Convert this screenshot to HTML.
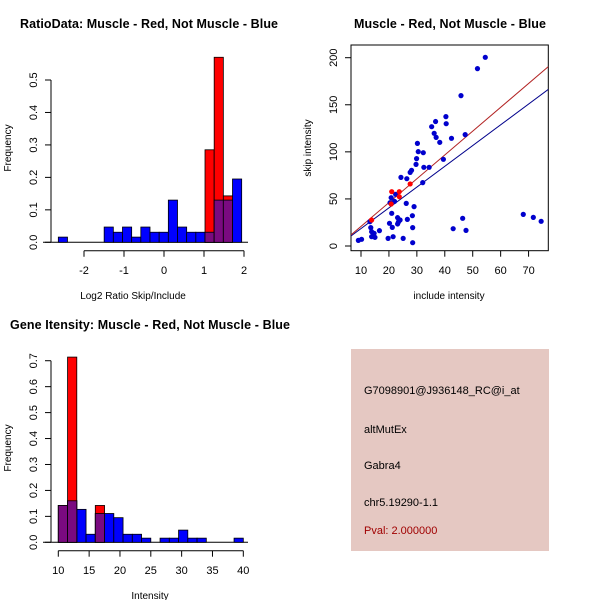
<!DOCTYPE html>
<html><head><meta charset="utf-8"><style>
html,body{margin:0;padding:0;background:#fff}
svg{display:block;font-family:"Liberation Sans",sans-serif}
</style></head><body>
<svg id="c" width="600" height="600" xmlns="http://www.w3.org/2000/svg"></svg>
<script>
// Panel 1: log2 ratio histogram
const ratioStart = -2.642, ratioWidth = 0.2292;
const ratioBlue = [0.016,0,0,0,0,0.047,0.031,0.047,0.016,0.047,0.031,0.031,0.13,0.047,0.031,0.031,0.031,0.13,0.13,0.195];
const ratioRed  = [0,0,0,0,0,0,0,0,0,0,0,0,0,0,0,0,0.285,0.57,0.143,0];
const ratioXTicks = [-2,-1,0,1,2];
const ratioYTicks = [0,0.1,0.2,0.3,0.4,0.5];
// Panel 2: scatter
const scatterBlueX = [9.05,10.2,13.2,13.5,13.8,14.4,13.8,14.7,15.0,16.6,19.7,20.2,20.4,20.8,21.0,21.2,21.5,22.0,22.4,23.1,23.1,23.4,24.0,24.3,25.1,26.2,26.4,26.6,27.6,28.1,28.4,28.5,28.5,29.0,29.7,29.9,30.2,30.5,32.1,32.3,32.5,34.4,35.3,36.2,36.7,36.9,38.2,39.5,40.4,40.5,42.4,43.0,45.8,46.4,47.3,47.6,51.7,54.5,68.1,71.7,74.5];
const scatterBlueY = [6.0,7.1,25.8,19.5,9.9,11.7,15.2,13.5,9.2,16.3,8.1,24.1,46.0,51.3,34.7,19.8,9.9,47.4,54.9,23.4,30.1,25.5,27.6,72.9,8.1,45.3,71.5,28.3,78.2,80.4,32.2,19.5,3.5,41.8,86.7,92.8,109.0,100.2,67.3,99.1,83.6,83.6,126.7,119.7,132.2,115.4,110.1,92.1,137.4,129.9,114.4,18.4,159.7,29.4,118.3,16.6,188.4,200.4,33.6,30.4,26.2];
const scatterRedX = [13.8,21.0,20.8,23.7,23.7,27.6];
const scatterRedY = [27.6,57.7,44.6,57.7,52.4,65.9];
const fitRed = [2.53,-4.5];   // slope, intercept
const fitBlue = [2.205,-3.56];
const scatterXTicks = [10,20,30,40,50,60,70];
const scatterYTicks = [0,50,100,150,200];
// Panel 3: intensity histogram
const intStart = 10, intWidth = 1.5;
const intBlue = [0.142,0.16,0.127,0.031,0.111,0.111,0.095,0.031,0.031,0.016,0,0.016,0.016,0.047,0.016,0.016,0,0,0,0.016];
const intRed  = [0.142,0.714,0,0,0.142,0,0,0,0,0,0,0,0,0,0,0,0,0,0,0];
const intXTicks = [10,15,20,25,30,35,40];
const intYTicks = [0,0.1,0.2,0.3,0.4,0.5,0.6,0.7];

const NS="http://www.w3.org/2000/svg", svg=document.getElementById('c');
function el(tag,attrs,parent){const e=document.createElementNS(NS,tag);for(const k in attrs)e.setAttribute(k,attrs[k]);(parent||svg).appendChild(e);return e;}
function txt(s,x,y,opts,parent){const t=el('text',Object.assign({x:x,y:y,'font-size':11,fill:'#000'},opts||{}),parent);t.textContent=s;return t;}
const PURPLE='#7a0a80';

function histogram(name,start,width,blue,red,xf,yf,y0){
  const g=el('g',{});
  
  
  blue.forEach((v,i)=>{ if(v<=0)return; const x1=xf(start+i*width),x2=xf(start+(i+1)*width);
    const r=el('rect',{x:x1,y:yf(v),width:x2-x1,height:y0-yf(v),fill:'#0000ff',stroke:'#000','stroke-width':0.8},g);
    
    });
  red.forEach((v,i)=>{ if(v<=0)return; const x1=xf(start+i*width),x2=xf(start+(i+1)*width);
    const r=el('rect',{x:x1,y:yf(v),width:x2-x1,height:y0-yf(v),fill:'#ff0000',stroke:'#000','stroke-width':0.8},g);
    
    
    const m=Math.min(v,blue[i]); if(m>0){
    const p=el('rect',{x:x1,y:yf(m),width:x2-x1,height:y0-yf(m),fill:PURPLE,stroke:'#000','stroke-width':0.8},g);
    
    }});
}
function xAxis(name,ticks,xf,y,labelY){
  const g=el('g',{});
  
  
  el('line',{x1:xf(ticks[0]),x2:xf(ticks[ticks.length-1]),y1:y,y2:y,stroke:'#000'},g);
  ticks.forEach(t=>{el('line',{x1:xf(t),x2:xf(t),y1:y,y2:y+6,stroke:'#000'},g);
    txt(String(t),xf(t),labelY,{'text-anchor':'middle'},g);});
}
function yAxis(name,ticks,yf,x){
  const g=el('g',{});
  
  
  el('line',{x1:x,x2:x,y1:yf(ticks[0]),y2:yf(ticks[ticks.length-1]),stroke:'#000'},g);
  ticks.forEach(t=>{el('line',{x1:x,x2:x-6,y1:yf(t),y2:yf(t),stroke:'#000'},g);
    const lbl=(ticks[ticks.length-1]<1)?t.toFixed(1):String(t);
    txt(lbl,x-14,yf(t),{'text-anchor':'middle',transform:`rotate(-90 ${x-14} ${yf(t)})`},g);});
}

// ---------- Panel 1 ----------
{const xf=v=>164+v*40, yf=v=>242.3-v*324.6;
 const t=txt('RatioData: Muscle - Red, Not Muscle - Blue',20,28,{'font-size':12.5,'font-weight':'bold',textLength:258});
  
 el('line',{x1:43,x2:248,y1:242.3,y2:242.3,stroke:'#000'});
 histogram('ratio',ratioStart,ratioWidth,ratioBlue,ratioRed,xf,yf,242.3);
 xAxis('ratio-x-axis',ratioXTicks,xf,250.7,274);
 yAxis('ratio-y-axis',ratioYTicks,yf,51);
 const xl=txt('Log2 Ratio Skip/Include',133,299,{'font-size':10,'text-anchor':'middle'});
  
 const yl=txt('Frequency',11,148,{'font-size':10,'text-anchor':'middle',transform:'rotate(-90 11 148)'});
  
}
// ---------- Panel 2 ----------
{const xf=v=>361+(v-10)*2.793, yf=v=>246-v*0.9415;
 const t=txt('Muscle - Red, Not Muscle - Blue',450,28,{'font-size':12.5,'font-weight':'bold','text-anchor':'middle',textLength:192});
  
 const box=el('rect',{x:351,y:45,width:197.3,height:205.7,fill:'none',stroke:'#000'});
  
 const cp=el('clipPath',{id:'clp'}); el('rect',{x:351,y:45,width:197.3,height:205.7},cp);
 const x0=(351-361)/2.793+10, x1=(548.3-361)/2.793+10;
 const lb=el('line',{x1:xf(x0),y1:yf(fitBlue[0]*x0+fitBlue[1]),x2:xf(x1),y2:yf(fitBlue[0]*x1+fitBlue[1]),stroke:'#00008b','clip-path':'url(#clp)'});
  
 const lr=el('line',{x1:xf(x0),y1:yf(fitRed[0]*x0+fitRed[1]),x2:xf(x1),y2:yf(fitRed[0]*x1+fitRed[1]),stroke:'#b22222','clip-path':'url(#clp)'});
  
 scatterBlueX.forEach((v,i)=>{const c=el('circle',{cx:xf(v),cy:yf(scatterBlueY[i]),r:2.6,fill:'#0000cd'});
    });
 scatterRedX.forEach((v,i)=>{const c=el('circle',{cx:xf(v),cy:yf(scatterRedY[i]),r:2.6,fill:'#ff0000'});
    });
 const gx=el('g',{});  
 scatterXTicks.forEach(t=>{el('line',{x1:xf(t),x2:xf(t),y1:250.7,y2:256.7,stroke:'#000'},gx);txt(String(t),xf(t),274,{'text-anchor':'middle'},gx);});
 const gy=el('g',{});  
 scatterYTicks.forEach(t=>{el('line',{x1:351,x2:345,y1:yf(t),y2:yf(t),stroke:'#000'},gy);txt(String(t),337,yf(t),{'text-anchor':'middle',transform:`rotate(-90 337 ${yf(t)})`},gy);});
 const xl=txt('include intensity',449,299,{'font-size':10,'text-anchor':'middle'});
  
 const yl=txt('skip intensity',311,148,{'font-size':10,'text-anchor':'middle',transform:'rotate(-90 311 148)'});
  
}
// ---------- Panel 3 ----------
{const xf=v=>58.3+(v-10)*6.167, yf=v=>542.3-v*259.4;
 const t=txt('Gene Itensity: Muscle - Red, Not Muscle - Blue',10,329,{'font-size':12.5,'font-weight':'bold',textLength:280});
  
 el('line',{x1:43,x2:248,y1:542.3,y2:542.3,stroke:'#000'});
 histogram('intensity',intStart,intWidth,intBlue,intRed,xf,yf,542.3);
 xAxis('intensity-x-axis',intXTicks,xf,550.7,574);
 yAxis('intensity-y-axis',intYTicks,yf,51);
 const xl=txt('Intensity',150,599,{'font-size':10,'text-anchor':'middle'});
  
 const yl=txt('Frequency',11,448,{'font-size':10,'text-anchor':'middle',transform:'rotate(-90 11 448)'});
  
}
</script>
<div style="position:absolute;left:351px;top:349px;width:198px;height:202px;background:#e5c8c2;font-family:'Liberation Sans',sans-serif;font-size:11px;">
  <div style="position:absolute;left:13px;top:36px;white-space:nowrap">G7098901@J936148_RC@i_at</div>
  <div style="position:absolute;left:13px;top:75px">altMutEx</div>
  <div style="position:absolute;left:13px;top:111px">Gabra4</div>
  <div style="position:absolute;left:13px;top:148px">chr5.19290-1.1</div>
  <div style="position:absolute;left:13px;top:176px;color:#a00000">Pval: 2.000000</div>
</div>
</body></html>
